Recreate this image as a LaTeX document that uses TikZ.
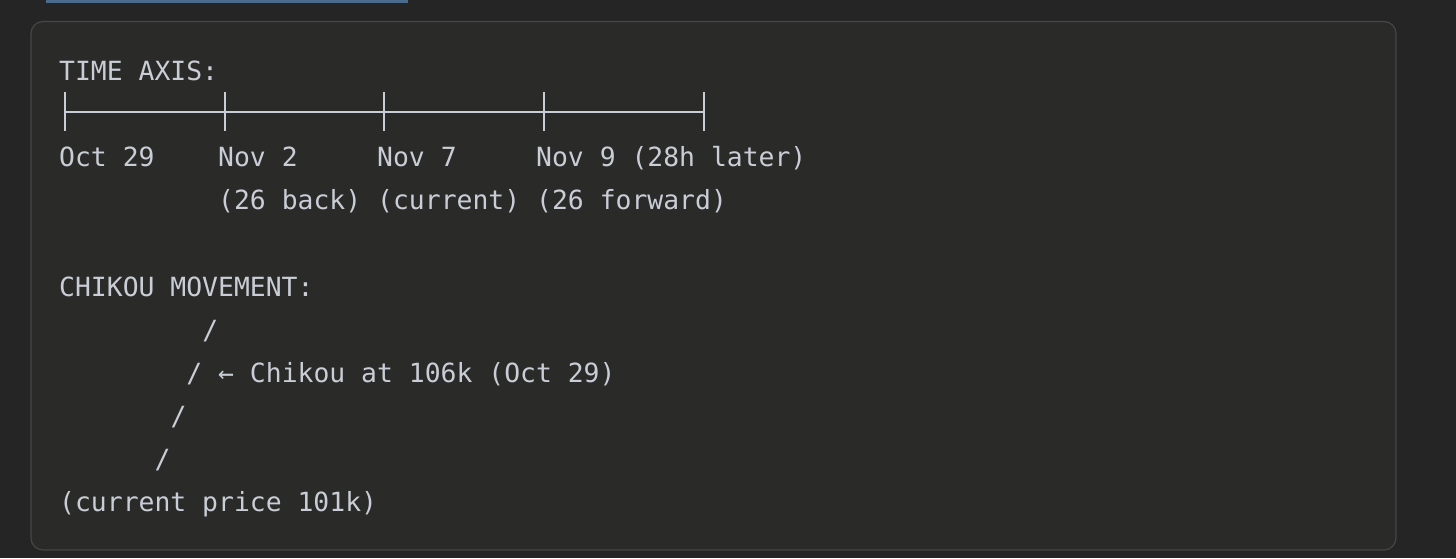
\documentclass[tikz,border=0pt]{standalone}
\usepackage{fontspec}
\newfontfamily\codefont{DejaVu Sans Mono}
\definecolor{pagebg}{HTML}{252525}
\definecolor{boxbg}{HTML}{2A2A29}
\definecolor{boxline}{HTML}{464646}
\definecolor{txt}{HTML}{C9CDD5}
\definecolor{barblue}{HTML}{4A6A8E}
\begin{document}
\begin{tikzpicture}[x=1pt,y=-1pt,
  codetext/.style={inner sep=0pt,anchor=base west,text=txt,font=\codefont\fontsize{26.4}{30}\selectfont},
  axisline/.style={draw=txt,line width=2.8pt}]
\useasboundingbox (0,0) rectangle (1456,558);
\fill[pagebg] (0,0) rectangle (1456,558);
\fill[barblue] (46,0) rectangle (408,2.5);
\draw[boxline,fill=boxbg,line width=1.2pt,rounded corners=12pt] (31,21.5) rectangle (1396,550);
% column width
\def\cw{15.9}
\node[codetext] (t1) at (59,80) {TIME AXIS:};
% axis
\coordinate (a0) at (65,112);
\coordinate (a1) at (225,112);
\coordinate (a2) at (384,112);
\coordinate (a3) at (544,112);
\coordinate (a4) at (704,112);
\draw[axisline] (a0) -- (a4);
\foreach \p in {a0,a1,a2,a3,a4}{
  \draw[axisline] ([yshift=-19pt]\p) -- ([yshift=20pt]\p);
}
\node[codetext] (d0) at (59,166) {Oct 29};
\node[codetext] (d1) at ({59+10*\cw},166) {Nov 2};
\node[codetext] (d2) at ({59+20*\cw},166) {Nov 7};
\node[codetext] (d3) at ({59+30*\cw},166) {Nov 9 (28h later)};
\node[codetext] (n1) at ({59+10*\cw},209) {(26 back)};
\node[codetext] (n2) at ({59+20*\cw},209) {(current)};
\node[codetext] (n3) at ({59+30*\cw},209) {(26 forward)};
\node[codetext] (t2) at (59,296) {CHIKOU MOVEMENT:};
\node[codetext] (s1) at ({59+9*\cw},339) {/};
\node[codetext] (s2) at ({59+8*\cw},382) {/};
\node[codetext] (lab) at ({59+10*\cw},382) {← Chikou at 106k (Oct 29)};
\node[codetext] (s3) at ({59+7*\cw},425) {/};
\node[codetext] (s4) at ({59+6*\cw},468) {/};
\node[codetext] (cp) at (59,511) {(current price 101k)};
\end{tikzpicture}
\end{document}
